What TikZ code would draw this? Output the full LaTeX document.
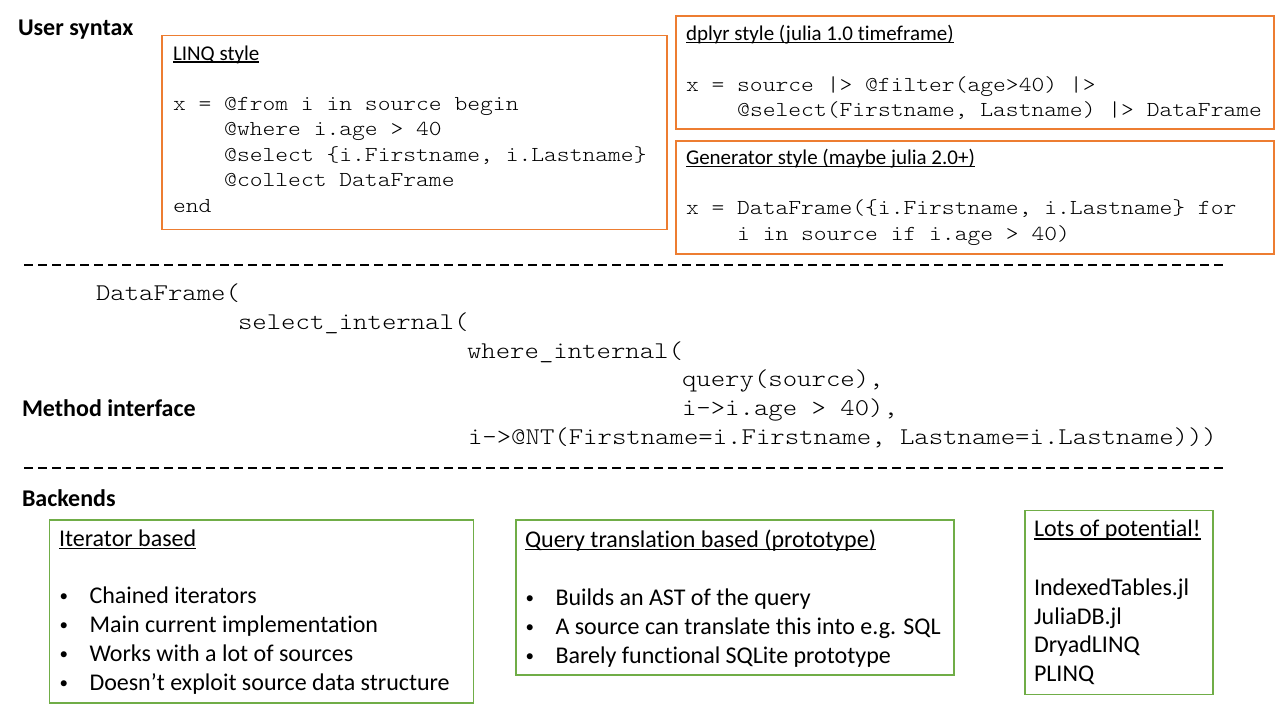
\documentclass[tikz,border=0pt]{standalone}
\usepackage{fontspec}
\setmainfont{Carlito}[Ligatures={TeX,NoCommon}]
\newfontfamily\codefont{lmmonolt10-regular.otf}[FakeStretch=1.143]
\definecolor{orng}{HTML}{ED7D31}
\definecolor{grn}{HTML}{70AD47}
\newcommand\hdl[1]{\setbox0\hbox{#1}\rlap{\rule[-0.13em]{\wd0}{0.065em}}\box0}
\begin{document}
\begin{tikzpicture}[x=1pt,y=-1pt,
  every node/.style={inner sep=0pt, outer sep=0pt},
  sec/.style={anchor=base west, font=\bfseries\fontsize{24}{28}\selectfont},
  hd/.style={anchor=base west, font=\fontsize{21}{25}\selectfont},
  code/.style={anchor=base west, font=\codefont\fontsize{21.33}{25.6}\selectfont},
  mcode/.style={anchor=base west, font=\codefont\fontsize{24}{29}\selectfont},
  bk/.style={anchor=base west, font=\fontsize{24}{28}\selectfont},
  bul/.style={anchor=base west, font=\fontsize{17}{20}\selectfont},
  obox/.style={draw=orng, line width=1.3pt, anchor=north west},
  gbox/.style={draw=grn, line width=1.3pt, anchor=north west},
  sep/.style={draw=black, line width=2pt, dash pattern=on 8.7pt off 5.3pt}]
\useasboundingbox (0,0) rectangle (1280,720);
\fill[white] (0,0) rectangle (1280,720);

% section labels
\node[sec] (us) at (18,35.5) {User syntax};
\node[sec] (mi) at (22,416.5) {Method interface};
\node[sec] (be) at (22,506.5) {Backends};

% separators
\coordinate (s1a) at (24,265); \coordinate (s1b) at (1224,265);
\coordinate (s2a) at (24,468); \coordinate (s2b) at (1224,468);
\draw[sep] (s1a) -- (s1b);
\draw[sep] (s2a) -- (s2b);

% LINQ box
\node[obox, minimum width=505pt, minimum height=194pt] (linq) at (162,35.5) {};
\node[hd] (linqh) at (173,60) {\hdl{LINQ style}};
\node[code] (l1) at (173,110) {x = @from i in source begin};
\node[code] (l2) at (224.2,135.6) {@where i.age > 40};
\node[code] (l3) at (224.2,161.2) {@select \{i.Firstname, i.Lastname\}};
\node[code] (l4) at (224.2,186.8) {@collect DataFrame};
\node[code] (l5) at (173,212.4) {end};

% dplyr box
\node[obox, minimum width=598pt, minimum height=113pt] (dply) at (676,16) {};
\node[hd] (dplyh) at (686,40.7) {\hdl{dplyr style (julia 1.0 timeframe)}};
\node[code] (d1) at (686,91) {x = source |> @filter(age>40) |>};
\node[code] (d2) at (737.2,116.6) {@select(Firstname, Lastname) |> DataFrame};

% generator box
\node[obox, minimum width=598pt, minimum height=113pt] (gen) at (676,141) {};
\node[hd] (genh) at (686,164.3) {\hdl{Generator style (maybe julia 2.0+)}};
\node[code] (g1) at (686,214.3) {x = DataFrame(\{i.Firstname, i.Lastname\} for};
\node[code] (g2) at (737.2,240) {i in source if i.age > 40)};

% method interface code
\node[mcode] (m1) at (96,300) {DataFrame(};
\node[mcode] (m2) at (238,329) {select\_internal(};
\node[mcode] (m3) at (467,358) {where\_internal(};
\node[mcode] (m4) at (682,386.8) {query(source),};
\node[mcode] (m5) at (682,415.7) {i->i.age > 40),};
\node[mcode] (m6) at (468,444.5) {i->@NT(Firstname=i.Firstname, Lastname=i.Lastname)))};

% iterator box
\node[gbox, minimum width=424pt, minimum height=183pt] (iter) at (49.3,520) {};
\node[bk] (iterh) at (59,546) {\hdl{Iterator based}};
\node[bul] (ib1) at (59.5,601.5) {\textbullet};
\node[bk] (it1) at (89.5,603.3) {Chained iterators};
\node[bul] (ib2) at (59.5,630.5) {\textbullet};
\node[bk] (it2) at (89.5,632.3) {Main current implementation};
\node[bul] (ib3) at (59.5,659.5) {\textbullet};
\node[bk] (it3) at (89.5,661.3) {Works with a lot of sources};
\node[bul] (ib4) at (59.5,688.5) {\textbullet};
\node[bk] (it4) at (89.5,690.3) {Doesn’t exploit source data structure};

% query translation box
\node[gbox, minimum width=438pt, minimum height=155pt] (qt) at (516,520) {};
\node[bk] (qth) at (525,547.3) {\hdl{Query translation based (prototype)}};
\node[bul] (qb1) at (525.5,603.2) {\textbullet};
\node[bk] (qt1) at (555.5,605) {Builds an AST of the query};
\node[bul] (qb2) at (525.5,632.2) {\textbullet};
\node[bk] (qt2) at (555.5,634) {A source can translate this into e.g. SQL};
\node[bul] (qb3) at (525.5,661.2) {\textbullet};
\node[bk] (qt3) at (555.5,663) {Barely functional SQLite prototype};

% potential box
\node[gbox, minimum width=188pt, minimum height=184pt] (pot) at (1025,510.5) {};
\node[bk] (poth) at (1034,536.7) {\hdl{Lots of potential!}};
\node[bk] (p1) at (1034,595.7) {IndexedTables.jl};
\node[bk] (p2) at (1034,624.3) {JuliaDB.jl};
\node[bk] (p3) at (1034,652.7) {DryadLINQ};
\node[bk] (p4) at (1034,681.3) {PLINQ};
\end{tikzpicture}
\end{document}
